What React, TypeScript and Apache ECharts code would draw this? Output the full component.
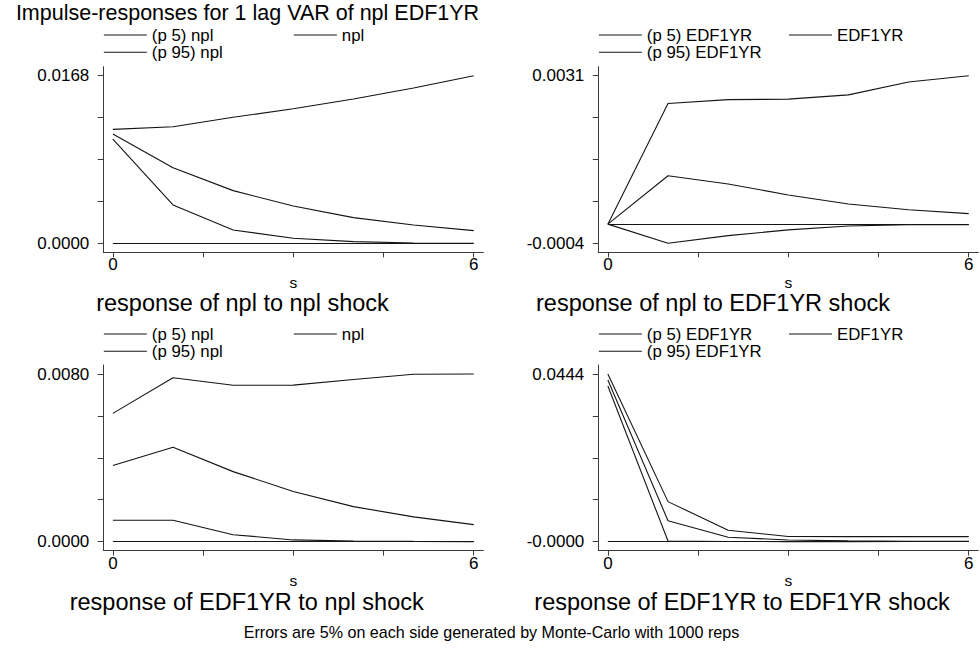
import React, { useEffect, useRef } from 'react';
import * as echarts from 'echarts';

// ---------- data ----------
const STEPS = [0, 1, 2, 3, 4, 5, 6];
const X_TICKS = [0, 1.5, 3, 4.5, 6];
const X_LABELS = [0, 6];

// response of npl to npl shock
const NPL_NPL_P5 = [0.01045, 0.00384, 0.00134, 0.0005, 0.00017, 0.00003, 0.00001];
const NPL_NPL_IRF = [0.01096, 0.00758, 0.00528, 0.00374, 0.00257, 0.00184, 0.00127];
const NPL_NPL_P95 = [0.01142, 0.01169, 0.01263, 0.01349, 0.01446, 0.01556, 0.0168];

// response of npl to EDF1YR shock
const NPL_EDF_P5 = [0, -0.0004, -0.00024, -0.00012, -0.00004, -0.00001, -0.00001];
const NPL_EDF_IRF = [0, 0.00101, 0.00084, 0.00061, 0.00042, 0.0003, 0.00022];
const NPL_EDF_P95 = [0, 0.00252, 0.0026, 0.00261, 0.0027, 0.00297, 0.0031];

// response of EDF1YR to npl shock
const EDF_NPL_P5 = [0.00102, 0.00102, 0.00033, 0.00008, 0.00003, 0.00001, 0];
const EDF_NPL_IRF = [0.00363, 0.0045, 0.00334, 0.00239, 0.00167, 0.00118, 0.00081];
const EDF_NPL_P95 = [0.00612, 0.00782, 0.00746, 0.00747, 0.00774, 0.00799, 0.008];

// response of EDF1YR to EDF1YR shock
const EDF_EDF_P5 = [0.0412, 0.0001, -0.00002, -0.00004, -0.00004, -0.00003, -0.00003];
const EDF_EDF_IRF = [0.0428, 0.0055, 0.00111, 0.0004, 0.00015, 0.00006, 0.00002];
const EDF_EDF_P95 = [0.0444, 0.01056, 0.00296, 0.0013, 0.00128, 0.00127, 0.00127];

const SHOCKS = ['npl', 'EDF1YR', 'npl', 'EDF1YR'];
const PANEL_TITLES = [
  'response of npl to npl shock',
  'response of npl to EDF1YR shock',
  'response of EDF1YR to npl shock',
  'response of EDF1YR to EDF1YR shock',
];
const MAIN_TITLE = 'Impulse-responses for 1 lag VAR of npl EDF1YR';
const NOTE = 'Errors are 5% on each side generated by Monte-Carlo with 1000 reps';
const X_NAME = 's';

const PANEL_DATA = [
  [NPL_NPL_P5, NPL_NPL_IRF, NPL_NPL_P95],
  [NPL_EDF_P5, NPL_EDF_IRF, NPL_EDF_P95],
  [EDF_NPL_P5, EDF_NPL_IRF, EDF_NPL_P95],
  [EDF_EDF_P5, EDF_EDF_IRF, EDF_EDF_P95],
];

// ---------- layout ----------
const W = 980;
const H = 651;
const GW = 380;
const GH = 185.6;
const LAYOUT = [
  { gx: 103.3, gy: 66.7, tx: 242.5, ty: 302.5, lx1: 103.3, lx2: 293.3, ly1: 34, ly2: 51.2 },
  { gx: 598.3, gy: 66.7, tx: 713, ty: 302.5, lx1: 598.3, lx2: 788.5, ly1: 34, ly2: 51.2 },
  { gx: 103.3, gy: 365, tx: 246.7, ty: 601.5, lx1: 103.3, lx2: 293.3, ly1: 333, ly2: 350.2 },
  { gx: 598.3, gy: 365, tx: 742, ty: 601.5, lx1: 598.3, lx2: 788.5, ly1: 333, ly2: 350.2 },
];
const Y_PAD = 0.0537;
const X_PAD = 0.0265;
const FONT = "'Liberation Sans', Arial, Helvetica, sans-serif";
const LINE = '#141414';
const AXIS = '#3a3a3a';

function buildOption() {
  const grid: any[] = [];
  const xAxis: any[] = [];
  const yAxis: any[] = [];
  const series: any[] = [];
  const legend: any[] = [];
  const title: any[] = [];

  title.push({
    text: MAIN_TITLE, left: 247.5, top: 13, padding: 0,
    textAlign: 'center', textVerticalAlign: 'middle',
    textStyle: { fontFamily: FONT, fontSize: 21.5, lineHeight: 20, fontWeight: 'normal', color: '#000' },
  });
  title.push({
    text: NOTE, left: 491.5, top: 632, padding: 0,
    textAlign: 'center', textVerticalAlign: 'middle',
    textStyle: { fontFamily: FONT, fontSize: 16.1, lineHeight: 15, fontWeight: 'normal', color: '#000' },
  });

  const xSpan = STEPS[STEPS.length - 1] - STEPS[0];
  PANEL_DATA.forEach((arrs, i) => {
    const L = LAYOUT[i];
    const shock = SHOCKS[i];
    const names = [`(p 5) ${shock}`, shock, `(p 95) ${shock}`];
    const all = [...arrs[0], ...arrs[1], ...arrs[2], 0];
    const lo = Math.min(...all);
    const hi = Math.max(...all);
    const span = hi - lo;
    const yTicks = [0, 1, 2, 3, 4].map((k) => lo + (k * span) / 4);

    grid.push({ left: L.gx, top: L.gy, width: GW, height: GH, containLabel: false });
    xAxis.push({
      gridIndex: i, type: 'value',
      min: STEPS[0] - X_PAD * xSpan, max: STEPS[STEPS.length - 1] + X_PAD * xSpan,
      axisLine: { show: true, onZero: false, lineStyle: { color: AXIS, width: 1 } },
      axisTick: { show: true, length: 5, customValues: X_TICKS, lineStyle: { color: AXIS, width: 1 } },
      axisLabel: { show: true, customValues: X_LABELS, margin: 5, fontSize: 17, lineHeight: 15, fontFamily: FONT, color: '#000', formatter: (v: number) => String(v) },
      splitLine: { show: false },
      name: X_NAME, nameLocation: 'middle', nameGap: 22.5,
      nameTextStyle: { fontSize: 15.5, lineHeight: 10, fontFamily: FONT, color: '#000' },
    });
    yAxis.push({
      gridIndex: i, type: 'value',
      min: lo - Y_PAD * span, max: hi + Y_PAD * span,
      axisLine: { show: true, onZero: false, lineStyle: { color: AXIS, width: 1 } },
      axisTick: { show: true, length: 5.5, customValues: yTicks, lineStyle: { color: AXIS, width: 1 } },
      axisLabel: { show: true, customValues: [lo, hi], margin: 14, fontSize: 17, lineHeight: 15, fontFamily: FONT, color: '#000', formatter: (v: number) => v.toFixed(4) },
      splitLine: { show: false },
    });

    arrs.forEach((arr, j) => {
      const s: any = {
        type: 'line', name: names[j], xAxisIndex: i, yAxisIndex: i,
        data: STEPS.map((x, k) => [x, arr[k]]),
        symbol: 'none', color: LINE,
        lineStyle: { color: LINE, width: 1.1 },
        silent: true, z: 3,
      };
      if (j === 1) {
        s.markLine = {
          silent: true, symbol: 'none', label: { show: false },
          lineStyle: { color: LINE, width: 1.1, type: 'solid' },
          data: [[{ coord: [STEPS[0], 0] }, { coord: [STEPS[STEPS.length - 1], 0] }]],
        };
      }
      series.push(s);
    });

    const pos = [
      [L.lx1, L.ly1],
      [L.lx2, L.ly1],
      [L.lx1, L.ly2],
    ];
    names.forEach((n, j) => {
      legend.push({
        data: [n], left: pos[j][0], top: pos[j][1] - 7.5, padding: 0, itemGap: 0,
        itemWidth: 43, itemHeight: 15, selectedMode: false,
        itemStyle: { opacity: 0 },
        lineStyle: { color: LINE, width: 1.1 },
        textStyle: { fontFamily: FONT, fontSize: 16.8, color: '#000', lineHeight: 15 },
      });
    });

    title.push({
      text: PANEL_TITLES[i], left: L.tx, top: L.ty, padding: 0,
      textAlign: 'center', textVerticalAlign: 'middle',
      textStyle: { fontFamily: FONT, fontSize: 23.5, lineHeight: 20, fontWeight: 'normal', color: '#000' },
    });
  });

  return {
    animation: false,
    backgroundColor: '#ffffff',
    title, legend, grid, xAxis, yAxis, series,
  };
}

export default function App() {
  const ref = useRef<HTMLDivElement>(null);
  useEffect(() => {
    document.body.style.margin = '0';
    const chart = echarts.init(ref.current!, undefined, { renderer: 'svg' });
    chart.setOption(buildOption() as any);
    return () => chart.dispose();
  }, []);
  return (
    <div
      ref={ref}
      style={{ position: 'absolute', left: 0, top: 0, width: W, height: H, background: '#fff' }}
    />
  );
}
